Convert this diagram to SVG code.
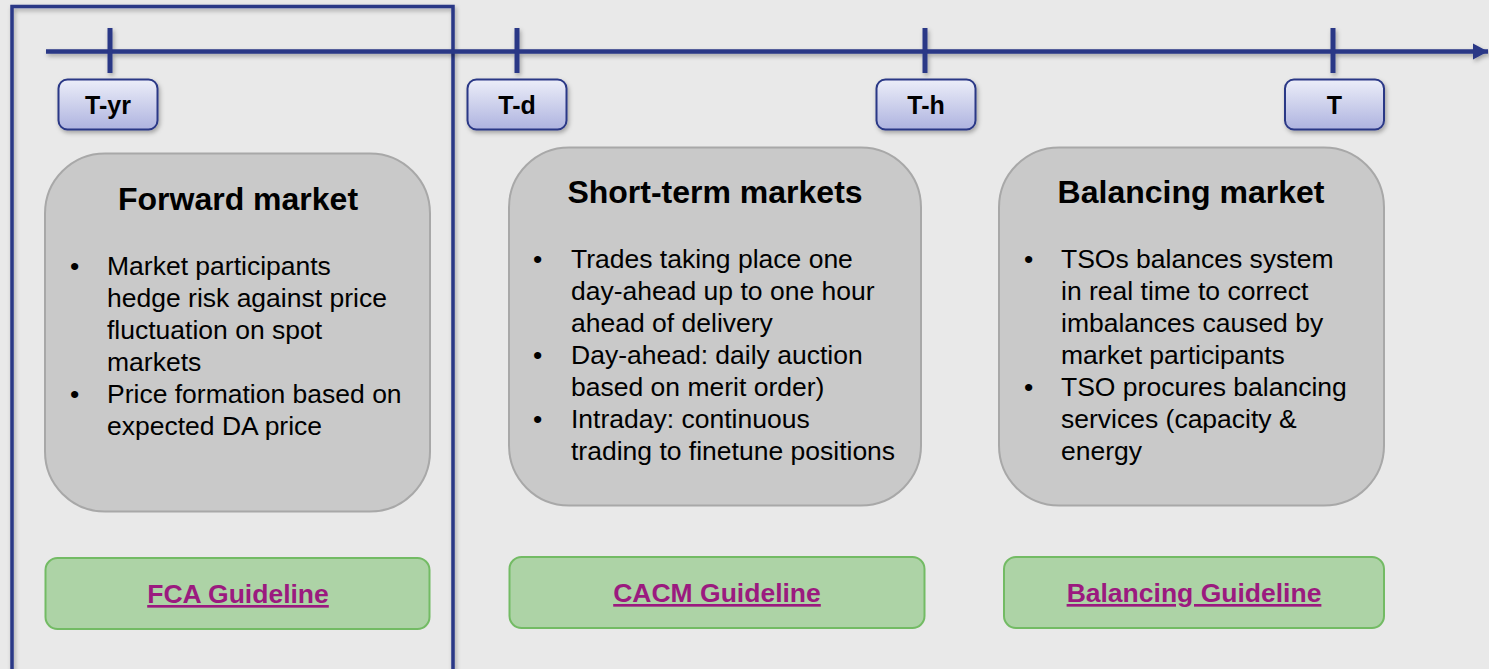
<svg xmlns="http://www.w3.org/2000/svg" width="1489" height="669" viewBox="0 0 1489 669">
<defs>
<linearGradient id="lab" x1="0" y1="0" x2="0" y2="1">
<stop offset="0" stop-color="#eceef9"/>
<stop offset="1" stop-color="#aeb3df"/>
</linearGradient>
<filter id="sh" x="-10%" y="-10%" width="130%" height="140%">
<feDropShadow dx="1.5" dy="2.5" stdDeviation="2" flood-color="#000" flood-opacity="0.3"/>
</filter>
<filter id="shu" filterUnits="userSpaceOnUse" x="0" y="0" width="1489" height="669">
<feDropShadow dx="1.5" dy="2.5" stdDeviation="2" flood-color="#000" flood-opacity="0.3"/>
</filter>
<marker id="arr" markerUnits="userSpaceOnUse" markerWidth="16" markerHeight="18" viewBox="0 0 16 18" refX="15" refY="9" orient="auto">
<path d="M0,1 L15,9 L0,17 Z" fill="#2a3786"/>
</marker>
<style>
.lab{fill:url(#lab);stroke:#2a3786;stroke-width:2;filter:url(#sh)}
.labt{font-family:"Liberation Sans",Arial,sans-serif;font-weight:bold;font-size:25px;fill:#000;text-anchor:middle}
.box{fill:#c9c9c9;stroke:#a8a8a8;stroke-width:2}
.title{font-family:"Liberation Sans",Arial,sans-serif;font-weight:bold;font-size:32px;fill:#000;text-anchor:middle}
.body{font-family:"Liberation Sans",Arial,sans-serif;font-size:26.5px;fill:#000}
.gbox{fill:#add3a6;stroke:#73bb64;stroke-width:2}
.gt{font-family:"Liberation Sans",Arial,sans-serif;font-weight:bold;font-size:26.5px;fill:#9b1a7f;text-anchor:middle;text-decoration:underline}
.tick{stroke:#2a3786;stroke-width:5}
</style>
</defs>
<rect x="0" y="0" width="1489" height="669" fill="#e9e9e9"/>
<g id="frame">
<rect x="12" y="6.5" width="441" height="670" fill="none" stroke="#2a3786" stroke-width="3.5" filter="url(#shu)"/>
</g>
<g id="connectors" filter="url(#shu)">
<line x1="46" y1="51.5" x2="1488" y2="51.5" stroke="#2a3786" stroke-width="4.5" marker-end="url(#arr)"/>
<line class="tick" x1="110" y1="28" x2="110" y2="73"/>
<line class="tick" x1="517" y1="28" x2="517" y2="73"/>
<line class="tick" x1="925" y1="28" x2="925" y2="73"/>
<line class="tick" x1="1333" y1="28" x2="1333" y2="73"/>
</g>
<g id="label-tyr">
<rect class="lab" x="58.5" y="79.5" width="99" height="50" rx="9"/>
<text class="labt" x="108" y="114">T-yr</text>
</g>
<g id="label-td">
<rect class="lab" x="467.5" y="79.5" width="99" height="50" rx="9"/>
<text class="labt" x="517" y="114">T-d</text>
</g>
<g id="label-th">
<rect class="lab" x="876.5" y="79.5" width="99" height="50" rx="9"/>
<text class="labt" x="926" y="114">T-h</text>
</g>
<g id="label-t">
<rect class="lab" x="1285" y="79.5" width="99" height="50" rx="9"/>
<text class="labt" x="1334.5" y="114">T</text>
</g>
<g id="forward-market">
<rect class="box" x="45" y="153.5" width="385" height="358" rx="60"/>
<text class="title" x="238" y="210">Forward market</text>
<text class="body">
<tspan x="70" y="275">•</tspan><tspan x="107" y="275">Market participants</tspan>
<tspan x="107" y="307">hedge risk against price</tspan>
<tspan x="107" y="339">fluctuation on spot</tspan>
<tspan x="107" y="371">markets</tspan>
<tspan x="70" y="403">•</tspan><tspan x="107" y="403">Price formation based on</tspan>
<tspan x="107" y="435">expected DA price</tspan>
</text>
</g>
<g id="short-term-markets">
<rect class="box" x="509" y="147.5" width="412" height="358" rx="60"/>
<text class="title" x="715" y="203">Short-term markets</text>
<text class="body">
<tspan x="533" y="268">•</tspan><tspan x="571" y="268">Trades taking place one</tspan>
<tspan x="571" y="300">day-ahead up to one hour</tspan>
<tspan x="571" y="332">ahead of delivery</tspan>
<tspan x="533" y="364">•</tspan><tspan x="571" y="364">Day-ahead: daily auction</tspan>
<tspan x="571" y="396">based on merit order)</tspan>
<tspan x="533" y="428">•</tspan><tspan x="571" y="428">Intraday: continuous</tspan>
<tspan x="571" y="460">trading to finetune positions</tspan>
</text>
</g>
<g id="balancing-market">
<rect class="box" x="999" y="147.5" width="385" height="358" rx="60"/>
<text class="title" x="1191" y="203">Balancing market</text>
<text class="body">
<tspan x="1024" y="268">•</tspan><tspan x="1061" y="268">TSOs balances system</tspan>
<tspan x="1061" y="300">in real time to correct</tspan>
<tspan x="1061" y="332">imbalances caused by</tspan>
<tspan x="1061" y="364">market participants</tspan>
<tspan x="1024" y="396">•</tspan><tspan x="1061" y="396">TSO procures balancing</tspan>
<tspan x="1061" y="428">services (capacity &amp;</tspan>
<tspan x="1061" y="460">energy</tspan>
</text>
</g>
<g id="fca-guideline">
<rect class="gbox" x="45.5" y="558" width="384" height="71" rx="12"/>
<text class="gt" x="238" y="603">FCA Guideline</text>
</g>
<g id="cacm-guideline">
<rect class="gbox" x="509.5" y="557" width="415" height="71" rx="12"/>
<text class="gt" x="717" y="602">CACM Guideline</text>
</g>
<g id="balancing-guideline">
<rect class="gbox" x="1004" y="557" width="380" height="71" rx="12"/>
<text class="gt" x="1194" y="602">Balancing Guideline</text>
</g>
</svg>
